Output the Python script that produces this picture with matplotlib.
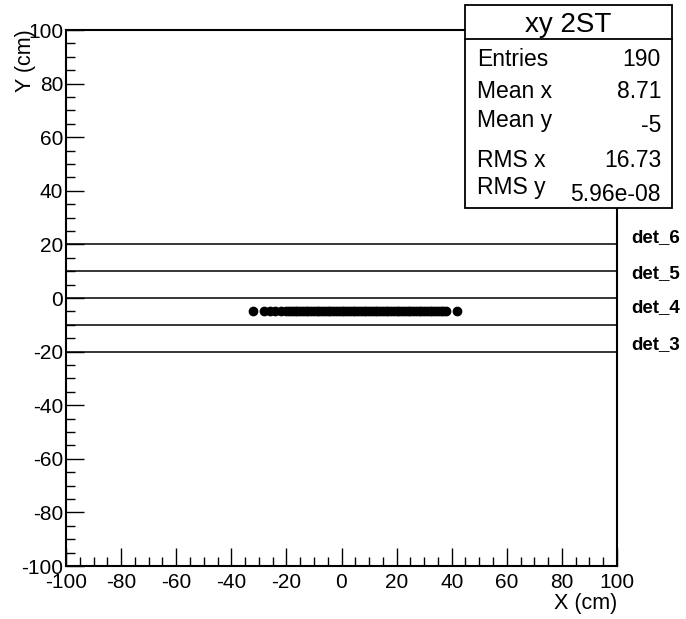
import numpy as np
import matplotlib.pyplot as plt
from matplotlib.patches import Rectangle
from matplotlib.ticker import MultipleLocator

plt.rcParams['font.family'] = ['Liberation Sans', 'DejaVu Sans']
plt.rcParams['axes.unicode_minus'] = False

# hits (x, y)
hit_x = [-32, -28, -26, -24, -22,
         -20, -19, -18, -17, -16, -15, -14, -13, -12, -11, -10, -9, -8, -7, -6,
         -5, -4, -3, -2, -1, 0, 1, 2, 3, 4, 5, 6, 7, 8, 9, 10, 11, 12, 13, 14,
         15, 16, 17, 18, 19, 20, 21, 22, 23, 24, 25, 26, 27, 28, 29, 30, 31, 32,
         33, 34, 35, 36, 37, 38, 42]
hit_y = [-5] * len(hit_x)

# plans des détecteurs
det_y = [20, 10, 0, -10, -20]
det_names = ["det_6", "det_5", "det_4", "det_3"]
det_label_y = [22.4, 9.3, -3.7, -17.5]

stats_labels = ["Entries", "Mean x", "Mean y", "RMS x", "RMS y"]
stats_values = ["190", "8.71", "-5", "16.73", "5.96e-08"]

fig = plt.figure(figsize=(6.86, 6.19), dpi=100)
ax = fig.add_axes([66/686, 53/619, 551/686, 536/619])

for yy in det_y:
    ax.plot([-100, 100], [yy, yy], color='black', linewidth=1.1)

ax.plot(hit_x, hit_y, 'o', color='black', markersize=6, linestyle='none')

for name, yl in zip(det_names, det_label_y):
    ax.text(105, yl, name, fontsize=13.5, fontweight='bold', ha='left', va='center')

ax.set_xlim(-100, 100)
ax.set_ylim(-100, 100)
ax.xaxis.set_major_locator(MultipleLocator(20))
ax.xaxis.set_minor_locator(MultipleLocator(5))
ax.yaxis.set_major_locator(MultipleLocator(20))
ax.yaxis.set_minor_locator(MultipleLocator(5))
ax.tick_params(which='both', direction='in', top=False, right=False, labelsize=15, width=1)
ax.tick_params(which='major', length=13)
ax.tick_params(which='minor', length=6.5)
ax.tick_params(axis='x', pad=5)
ax.tick_params(axis='y', pad=2)
for s in ax.spines.values():
    s.set_linewidth(1.5)

fig.text(617/686, 1 - 603/619, "X (cm)", fontsize=15.5, ha='right', va='center')
fig.text(26/686, 1 - 61/619, "Y (cm)", fontsize=15.5, rotation=90, ha='center', va='center')

# boîte de statistiques
W, H = 686, 619
box = Rectangle((465/W, 1 - 208/H), (672-465)/W, (208-5)/H, transform=fig.transFigure,
                facecolor='white', edgecolor='black', linewidth=1.3, zorder=10)
fig.patches.append(box)
fig.add_artist(plt.Line2D([465/W, 672/W], [1 - 39/H, 1 - 39/H], color='black', linewidth=1.3, zorder=11))
fig.text(568/W, 1 - 32/H, "xy 2ST", fontsize=20, ha='center', va='baseline', zorder=12)
label_base = [66, 98, 127, 167, 194]
value_base = [66, 98, 132, 167, 201]
for lab, val, yl, yv in zip(stats_labels, stats_values, label_base, value_base):
    fig.text(477/W, 1 - yl/H, lab, fontsize=16.5, ha='left', va='baseline', zorder=12)
    fig.text(661/W, 1 - yv/H, val, fontsize=16.5, ha='right', va='baseline', zorder=12)

fig.savefig("out.png", dpi=100)
